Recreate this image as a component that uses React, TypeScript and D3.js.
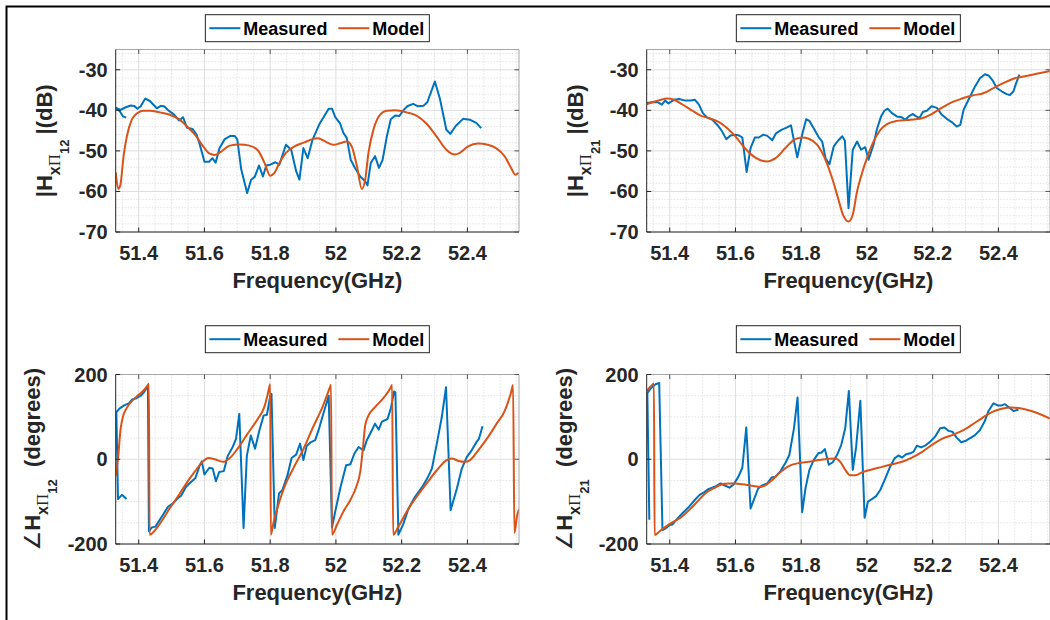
import React from 'react';
import * as d3 from 'd3';

type Pt = [number, number];

// ---------- axes ----------
const FREQ_DOMAIN: [number, number] = [51.33, 52.557];
const FREQ_TICKS = [51.4, 51.6, 51.8, 52, 52.2, 52.4];
const MAG_DOMAIN: [number, number] = [-70, -25];
const MAG_TICKS = [-30, -40, -50, -60, -70];
const PHASE_DOMAIN: [number, number] = [-200, 200];
const PHASE_TICKS = [200, 0, -200];
const LEGEND_LABELS = ['Measured', 'Model'];
const X_LABEL = 'Frequency(GHz)';

// ---------- |H12| (dB) ----------
const mag12Measured: Pt[] = [
  [51.362, -41.8], [51.352, -41.5], [51.343, -40.3], [51.331, -39.4],
  [51.345, -39.9], [51.359, -39.3], [51.376, -38.8], [51.386, -38.9], [51.396, -39.6],
  [51.406, -39.0], [51.420, -37.1], [51.434, -37.7], [51.455, -39.5], [51.467, -38.9],
  [51.477, -39.0], [51.490, -40.0], [51.507, -41.0], [51.523, -42.5], [51.535, -41.7],
  [51.547, -44.3], [51.564, -44.6], [51.576, -46.0], [51.586, -48.5], [51.600, -52.7],
  [51.614, -52.7], [51.624, -51.8], [51.634, -52.9], [51.646, -49.3], [51.662, -47.1],
  [51.679, -46.3], [51.692, -46.3], [51.700, -47.2], [51.712, -54.6], [51.730, -60.4],
  [51.742, -57.1], [51.753, -56.4], [51.766, -53.6], [51.778, -56.3], [51.788, -53.6],
  [51.800, -53.4], [51.816, -52.8], [51.828, -53.4], [51.848, -48.5], [51.864, -49.7],
  [51.879, -55.0], [51.889, -57.1], [51.901, -49.3], [51.914, -51.8], [51.929, -47.2],
  [51.949, -43.5], [51.978, -39.6], [51.988, -39.6], [51.998, -41.7], [52.013, -43.3],
  [52.023, -45.6], [52.033, -46.8], [52.045, -52.2], [52.058, -54.2], [52.074, -56.3],
  [52.089, -57.5], [52.096, -58.5], [52.106, -53.0], [52.119, -51.3], [52.131, -54.2],
  [52.142, -52.2], [52.155, -46.4], [52.167, -42.2], [52.180, -41.3], [52.193, -41.4],
  [52.205, -40.0], [52.217, -39.0], [52.235, -38.4], [52.250, -39.0], [52.266, -38.9],
  [52.278, -38.0], [52.301, -32.9], [52.316, -37.0], [52.336, -44.8], [52.348, -45.8],
  [52.365, -43.8], [52.387, -42.1], [52.407, -42.3], [52.427, -43.1], [52.442, -44.4],
];

const mag12Model: Pt[] = [
  [51.330, -55.3], [51.338, -59.4], [51.344, -58.5], [51.354, -51.3], [51.364, -46.4],
  [51.379, -42.3], [51.394, -40.8], [51.414, -40.1], [51.434, -40.1], [51.465, -40.5],
  [51.495, -41.1], [51.525, -42.3], [51.547, -44.0], [51.571, -46.0], [51.596, -48.9],
  [51.616, -50.7], [51.631, -51.0], [51.652, -50.1], [51.677, -48.7], [51.707, -48.4],
  [51.737, -48.7], [51.763, -49.9], [51.783, -53.0], [51.800, -56.1], [51.813, -55.4],
  [51.828, -53.0], [51.848, -50.5], [51.874, -48.9], [51.904, -47.9], [51.929, -47.1],
  [51.945, -46.9], [51.968, -47.7], [51.993, -48.5], [52.013, -48.1], [52.033, -47.7],
  [52.048, -48.9], [52.064, -53.8], [52.079, -59.4], [52.089, -57.1], [52.099, -50.5],
  [52.114, -44.8], [52.134, -41.1], [52.155, -40.1], [52.180, -40.0], [52.215, -40.5],
  [52.245, -41.3], [52.276, -43.3], [52.306, -46.4], [52.336, -49.7], [52.362, -50.9],
  [52.377, -50.5], [52.402, -48.9], [52.432, -48.2], [52.462, -48.5], [52.487, -49.3],
  [52.513, -51.3], [52.533, -54.2], [52.546, -55.9], [52.556, -55.4],
];

// ---------- |H21| (dB) ----------
const mag21Measured: Pt[] = [
  [51.330, -38.2], [51.347, -38.0], [51.363, -38.0], [51.376, -38.6], [51.386, -37.6],
  [51.396, -38.3], [51.413, -37.4], [51.428, -37.2], [51.449, -37.6], [51.464, -37.6],
  [51.477, -37.4], [51.489, -38.6], [51.501, -40.7], [51.514, -41.8], [51.529, -42.3],
  [51.545, -43.6], [51.558, -45.0], [51.572, -47.1], [51.585, -46.2], [51.600, -46.0],
  [51.611, -46.2], [51.621, -46.7], [51.634, -55.2], [51.646, -49.3], [51.659, -46.7],
  [51.671, -46.7], [51.685, -46.0], [51.697, -46.3], [51.712, -47.4], [51.724, -45.6],
  [51.740, -44.8], [51.757, -44.2], [51.769, -43.7], [51.788, -51.6], [51.803, -46.0],
  [51.815, -42.2], [51.825, -42.6], [51.838, -44.4], [51.854, -46.7], [51.864, -47.7],
  [51.874, -51.8], [51.886, -53.3], [51.899, -48.9], [51.912, -47.5], [51.925, -46.4],
  [51.933, -47.5], [51.944, -64.1], [51.957, -49.7], [51.970, -47.7], [51.982, -49.7],
  [51.995, -49.1], [52.005, -52.2], [52.020, -48.5], [52.030, -44.8], [52.043, -41.5],
  [52.053, -40.1], [52.063, -39.6], [52.076, -40.7], [52.091, -41.5], [52.106, -41.7],
  [52.116, -42.3], [52.127, -41.5], [52.140, -40.9], [52.150, -41.5], [52.160, -41.9],
  [52.170, -40.4], [52.182, -40.1], [52.197, -39.0], [52.213, -39.4], [52.228, -41.1],
  [52.243, -42.1], [52.258, -42.9], [52.273, -44.0], [52.284, -43.6], [52.294, -39.9],
  [52.309, -37.4], [52.329, -34.1], [52.344, -32.1], [52.359, -31.1], [52.370, -31.4],
  [52.383, -32.7], [52.395, -34.5], [52.410, -35.3], [52.425, -36.0], [52.435, -36.2],
  [52.446, -35.3], [52.454, -33.3], [52.464, -31.2],
];

const mag21Model: Pt[] = [
  [51.330, -38.5], [51.347, -38.0], [51.368, -37.5], [51.393, -37.1], [51.413, -37.4],
  [51.438, -38.5], [51.469, -40.1], [51.494, -41.3], [51.519, -41.9], [51.550, -42.9],
  [51.575, -44.4], [51.600, -46.4], [51.626, -49.1], [51.651, -51.1], [51.676, -52.3],
  [51.697, -52.6], [51.722, -51.8], [51.752, -49.3], [51.778, -47.3], [51.803, -46.7],
  [51.823, -47.0], [51.849, -48.5], [51.874, -52.2], [51.894, -56.7], [51.912, -61.6],
  [51.927, -65.7], [51.944, -67.4], [51.956, -66.0], [51.970, -60.0], [51.985, -55.5],
  [52.000, -51.8], [52.020, -47.7], [52.041, -44.8], [52.061, -43.4], [52.091, -42.6],
  [52.132, -42.3], [52.162, -42.1], [52.193, -41.1], [52.223, -39.6], [52.253, -38.2],
  [52.289, -37.1], [52.324, -36.3], [52.354, -35.8], [52.385, -34.5], [52.415, -33.3],
  [52.446, -32.2], [52.481, -31.6], [52.516, -31.0], [52.557, -30.3],
];

// ---------- angle H12 (degrees) ----------
const phase12Measured: Pt[] = [
  [51.363, -94], [51.349, -84], [51.337, -94], [51.332, 111],
  [51.342, 120], [51.356, 127], [51.370, 132], [51.380, 141], [51.393, 144], [51.406, 150],
  [51.416, 158], [51.423, 167], [51.428, 173], [51.431, -170], [51.440, -161],
  [51.451, -159], [51.464, -143], [51.474, -131], [51.489, -112], [51.504, -104],
  [51.519, -92], [51.529, -86], [51.544, -65], [51.560, -53], [51.572, -45],
  [51.585, -16], [51.592, -5], [51.600, -36], [51.615, -20], [51.625, -22],
  [51.635, -52], [51.645, -30], [51.659, -28], [51.671, 8], [51.686, 29],
  [51.696, 48], [51.706, 107], [51.719, -162], [51.729, 8], [51.741, 56],
  [51.754, 25], [51.767, 68], [51.780, 103], [51.790, 105], [51.800, 148],
  [51.804, 154], [51.814, -162], [51.827, -80], [51.837, -73], [51.853, -37],
  [51.865, 3], [51.879, 11], [51.891, 37], [51.901, -2], [51.911, 31],
  [51.923, 40], [51.937, 45], [51.947, 68], [51.963, 111], [51.978, 150],
  [51.988, -161], [51.998, -123], [52.013, -69], [52.031, -14], [52.044, -12],
  [52.056, 13], [52.069, 29], [52.084, 21], [52.094, 45], [52.109, 68],
  [52.119, 84], [52.130, 70], [52.140, 89], [52.157, 95], [52.167, 120],
  [52.177, 160], [52.181, 158], [52.190, -178], [52.204, -155], [52.221, -116],
  [52.241, -88], [52.261, -67], [52.278, -45], [52.292, -22], [52.307, 37],
  [52.322, 99], [52.335, 170], [52.349, -120], [52.368, -69], [52.383, -22],
  [52.398, 5], [52.413, 21], [52.428, 41], [52.435, 48], [52.446, 78],
];

const phase12Model: Pt[] = [
  [51.330, -39], [51.337, 2], [51.345, 72], [51.353, 103], [51.363, 120],
  [51.380, 138], [51.400, 152], [51.417, 164], [51.428, 175], [51.431, 178],
  [51.433, -178], [51.448, -169], [51.469, -147], [51.494, -116], [51.519, -88],
  [51.544, -58], [51.570, -30], [51.592, -8], [51.612, 3], [51.632, 0],
  [51.656, -6], [51.676, 2], [51.701, 25], [51.731, 60], [51.762, 95],
  [51.782, 123], [51.790, 145], [51.798, 172], [51.800, 177], [51.802, -178],
  [51.810, -150], [51.822, -115], [51.842, -68], [51.870, -22], [51.900, 22],
  [51.930, 75], [51.960, 125], [51.982, 170], [51.985, 176], [51.988, -178],
  [52.003, -155], [52.023, -123], [52.044, -96], [52.062, -65], [52.074, -30],
  [52.082, 25], [52.089, 80], [52.099, 103], [52.119, 123], [52.145, 145],
  [52.166, 168], [52.171, 176], [52.174, -178], [52.190, -159], [52.216, -123],
  [52.246, -88], [52.276, -57], [52.307, -26], [52.337, -2], [52.352, 2],
  [52.373, -4], [52.393, -6], [52.408, -2], [52.433, 21], [52.459, 48],
  [52.489, 84], [52.514, 115], [52.532, 155], [52.539, 175], [52.543, -174],
  [52.551, -134], [52.557, -118],
];

// ---------- angle H21 (degrees) ----------
const phase21Measured: Pt[] = [
  [51.338, -143], [51.332, 156], [51.340, 165], [51.349, 172], [51.357, 177],
  [51.368, 180], [51.378, -167], [51.388, -163], [51.400, -155], [51.408, -154],
  [51.420, -143], [51.438, -128], [51.459, -112], [51.474, -98], [51.491, -84],
  [51.504, -78], [51.519, -70], [51.537, -65], [51.555, -57], [51.568, -62],
  [51.582, -67], [51.595, -59], [51.609, -41], [51.621, -20], [51.633, 75],
  [51.646, -116], [51.656, -96], [51.669, -69], [51.683, -61], [51.697, -57],
  [51.710, -43], [51.722, -41], [51.737, -28], [51.752, -9], [51.764, 10],
  [51.778, 73], [51.789, 146], [51.803, -125], [51.813, -69], [51.825, -25],
  [51.838, -2], [51.852, 14], [51.862, 16], [51.872, 24], [51.884, -13],
  [51.896, -7], [51.909, 10], [51.922, 34], [51.934, 73], [51.945, 161],
  [51.957, -25], [51.967, 28], [51.980, 138], [51.993, -138], [52.003, -100],
  [52.015, -94], [52.028, -87], [52.041, -72], [52.056, -45], [52.071, -17],
  [52.084, 2], [52.096, 9], [52.107, 4], [52.119, 12], [52.132, 14],
  [52.142, 18], [52.152, 32], [52.165, 28], [52.177, 32], [52.193, 42],
  [52.208, 54], [52.223, 73], [52.236, 75], [52.248, 67], [52.260, 65],
  [52.273, 51], [52.287, 40], [52.299, 43], [52.314, 50], [52.329, 57],
  [52.344, 69], [52.358, 89], [52.370, 114], [52.385, 132], [52.398, 127],
  [52.410, 127], [52.420, 130], [52.433, 122], [52.446, 114], [52.461, 117],
];

const phase21Model: Pt[] = [
  [51.330, 160], [51.337, 168], [51.345, 174], [51.352, 179], [51.354, -179],
  [51.368, -171], [51.388, -159], [51.408, -149], [51.433, -138], [51.459, -120],
  [51.484, -100], [51.509, -80], [51.535, -68], [51.560, -59], [51.580, -57],
  [51.600, -57], [51.621, -59], [51.646, -62], [51.672, -65], [51.692, -61],
  [51.712, -49], [51.737, -30], [51.762, -16], [51.793, -9], [51.823, -6],
  [51.854, -2], [51.884, 1], [51.904, 2], [51.919, -6], [51.934, -25],
  [51.950, -38], [51.965, -38], [51.985, -31], [52.015, -24], [52.046, -18],
  [52.076, -12], [52.107, -6], [52.137, 4], [52.167, 17], [52.198, 34],
  [52.228, 48], [52.259, 57], [52.289, 67], [52.319, 81], [52.350, 97],
  [52.380, 111], [52.410, 119], [52.440, 122], [52.470, 120], [52.500, 114],
  [52.531, 105], [52.557, 96],
];

// ---------- styling ----------
const BLUE = '#0072BD';
const ORANGE = '#D95319';
const AXIS = '#262626';
const GRID = '#dedede';
const MINOR = '#c4c4c4';
const SANS = '"Liberation Sans", Arial, Helvetica, sans-serif';

interface Box { left: number; right: number; top: number; bottom: number; }

interface PanelProps {
  id: string;
  box: Box;
  yDomain: [number, number];
  yTicks: number[];
  yMinor: number[];
  measured: Pt[];
  model: Pt[];
  legendTop: number;
  labelX: number;
  label: React.ReactNode;
}

function Panel({ id, box, yDomain, yTicks, yMinor, measured, model, legendTop, labelX, label }: PanelProps) {
  const x = d3.scaleLinear().domain(FREQ_DOMAIN).range([box.left, box.right]);
  const y = d3.scaleLinear().domain(yDomain).range([box.bottom, box.top]);
  const lineMeasured = d3.line<Pt>().x(d => x(d[0])).y(d => y(d[1]));
  const lineModel = d3.line<Pt>().x(d => x(d[0])).y(d => y(d[1])).curve(d3.curveMonotoneX);

  const xMinor = d3.range(0, 25)
    .map(i => 51.35 + i * 0.05)
    .filter(f => Math.abs(f * 5 - Math.round(f * 5)) > 0.01);

  const cx = (box.left + box.right) / 2;
  const cy = (box.top + box.bottom) / 2;
  const lgW = 224;
  const lgX = cx - lgW / 2;
  const lgMid = legendTop + 13.5;
  const tick = 4.5;

  return (
    <g>
      <defs>
        <clipPath id={`clip-${id}`}>
          <rect x={box.left} y={box.top} width={box.right - box.left} height={box.bottom - box.top} />
        </clipPath>
      </defs>
      <rect x={box.left} y={box.top} width={box.right - box.left} height={box.bottom - box.top} fill="#fff" />

      {/* minor grid */}
      {xMinor.map(f => (
        <line key={`xm${f}`} x1={x(f)} x2={x(f)} y1={box.top} y2={box.bottom}
          stroke={MINOR} strokeWidth={0.7} strokeDasharray="1 2" />
      ))}
      {yMinor.map(v => (
        <line key={`ym${v}`} x1={box.left} x2={box.right} y1={y(v)} y2={y(v)}
          stroke={MINOR} strokeWidth={0.7} strokeDasharray="1 2" />
      ))}
      {/* major grid */}
      {FREQ_TICKS.map(f => (
        <line key={`xg${f}`} x1={x(f)} x2={x(f)} y1={box.top} y2={box.bottom} stroke={GRID} strokeWidth={1} />
      ))}
      {yTicks.map(v => (
        <line key={`yg${v}`} x1={box.left} x2={box.right} y1={y(v)} y2={y(v)} stroke={GRID} strokeWidth={1} />
      ))}

      {/* data */}
      <g clipPath={`url(#clip-${id})`}>
        <path d={lineMeasured(measured) ?? ''} fill="none" stroke={BLUE} strokeWidth={2} strokeLinejoin="round" />
        <path d={lineModel(model) ?? ''} fill="none" stroke={ORANGE} strokeWidth={2} strokeLinejoin="round" />
      </g>

      {/* box and ticks */}
      <line x1={box.left} x2={box.right} y1={box.top} y2={box.top} stroke="#a6a6a6" strokeWidth={1} />
      <line x1={box.right} x2={box.right} y1={box.top} y2={box.bottom} stroke="#a6a6a6" strokeWidth={1} />
      <line x1={box.left} x2={box.right} y1={box.bottom} y2={box.bottom} stroke={AXIS} strokeWidth={1} />
      <line x1={box.left} x2={box.left} y1={box.top} y2={box.bottom} stroke={AXIS} strokeWidth={1} />
      {FREQ_TICKS.map(f => (
        <g key={`xt${f}`}>
          <line x1={x(f)} x2={x(f)} y1={box.bottom} y2={box.bottom - tick} stroke={AXIS} />
          <line x1={x(f)} x2={x(f)} y1={box.top} y2={box.top + tick} stroke="#555" />
          <text x={x(f)} y={box.bottom + 28} textAnchor="middle" fontSize={20} fontWeight="bold" fill={AXIS}>
            {String(f)}
          </text>
        </g>
      ))}
      {yTicks.map(v => (
        <g key={`yt${v}`}>
          <line x1={box.left} x2={box.left + tick} y1={y(v)} y2={y(v)} stroke={AXIS} />
          <line x1={box.right} x2={box.right - tick} y1={y(v)} y2={y(v)} stroke="#555" />
          <text x={box.left - 8} y={y(v) + 7} textAnchor="end" fontSize={20} fontWeight="bold" fill={AXIS}>
            {String(v)}
          </text>
        </g>
      ))}

      {/* axis labels */}
      <text x={cx} y={box.bottom + 56} textAnchor="middle" fontSize={22} fontWeight="bold" fill={AXIS}>
        {X_LABEL}
      </text>
      <text transform={`translate(${labelX},${cy}) rotate(-90)`} textAnchor="middle"
        fontSize={22} fontWeight="bold" fill={AXIS}>
        {label}
      </text>

      {/* legend */}
      <rect x={lgX} y={legendTop} width={lgW} height={27} fill="#fff" stroke="#262626" strokeWidth={1} />
      <line x1={lgX + 4} x2={lgX + 35} y1={lgMid} y2={lgMid} stroke={BLUE} strokeWidth={2} />
      <text x={lgX + 38} y={lgMid + 6.5} fontSize={18} fontWeight="bold" fill="#000">{LEGEND_LABELS[0]}</text>
      <line x1={lgX + 133} x2={lgX + 164} y1={lgMid} y2={lgMid} stroke={ORANGE} strokeWidth={2} />
      <text x={lgX + 167} y={lgMid + 6.5} fontSize={18} fontWeight="bold" fill="#000">{LEGEND_LABELS[1]}</text>
    </g>
  );
}

function magLabel(sub: string) {
  return (
    <>
      <tspan>|H</tspan>
      <tspan dy={8} fontSize={16}>x</tspan>
      <tspan fontSize={17} fontFamily='"Liberation Serif", "Times New Roman", serif' fontWeight="normal">Π</tspan>
      <tspan dy={9} fontSize={13}>{sub}</tspan>
      <tspan dy={-17} dx={5}>|(dB)</tspan>
    </>
  );
}

function phaseLabel(sub: string) {
  return (
    <>
      <tspan fontFamily='"DejaVu Sans", sans-serif' fontWeight="normal">∠</tspan>
      <tspan>H</tspan>
      <tspan dy={8} fontSize={16}>x</tspan>
      <tspan fontSize={17} fontFamily='"Liberation Serif", "Times New Roman", serif' fontWeight="normal">Π</tspan>
      <tspan dy={9} fontSize={13}>{sub}</tspan>
      <tspan dy={-17}>{'\u00a0\u00a0(degrees)'}</tspan>
    </>
  );
}

const magMinor = d3.range(-70, -24, 2).filter(v => v % 10 !== 0);
const phaseMinor = d3.range(-200, 201, 50).filter(v => v % 200 !== 0);

export default function App() {
  const leftCol = { left: 115.7, right: 519 };
  const rightCol = { left: 646.7, right: 1050 };
  const topRow = { top: 49.5, bottom: 232 };
  const botRow = { top: 374.5, bottom: 544 };

  return (
    <div style={{ width: 1050, height: 620 }}>
      <svg width={1050} height={620} viewBox="0 0 1050 620"
        style={{ position: 'absolute', left: 0, top: 0, background: '#fff', fontFamily: SANS }}>
        <rect x={0} y={0} width={1050} height={620} fill="#fff" />
        <Panel id="m12" box={{ ...leftCol, ...topRow }} yDomain={MAG_DOMAIN} yTicks={MAG_TICKS} yMinor={magMinor}
          measured={mag12Measured} model={mag12Model} legendTop={14.7} labelX={52} label={magLabel('12')} />
        <Panel id="m21" box={{ ...rightCol, ...topRow }} yDomain={MAG_DOMAIN} yTicks={MAG_TICKS} yMinor={magMinor}
          measured={mag21Measured} model={mag21Model} legendTop={14.7} labelX={583} label={magLabel('21')} />
        <Panel id="p12" box={{ ...leftCol, ...botRow }} yDomain={PHASE_DOMAIN} yTicks={PHASE_TICKS} yMinor={phaseMinor}
          measured={phase12Measured} model={phase12Model} legendTop={325.7} labelX={40} label={phaseLabel('12')} />
        <Panel id="p21" box={{ ...rightCol, ...botRow }} yDomain={PHASE_DOMAIN} yTicks={PHASE_TICKS} yMinor={phaseMinor}
          measured={phase21Measured} model={phase21Model} legendTop={325.7} labelX={572} label={phaseLabel('21')} />
        {/* figure frame */}
        <rect x={6.5} y={6.5} width={1100} height={700} fill="none" stroke="#000" strokeWidth={2} />
      </svg>
    </div>
  );
}
